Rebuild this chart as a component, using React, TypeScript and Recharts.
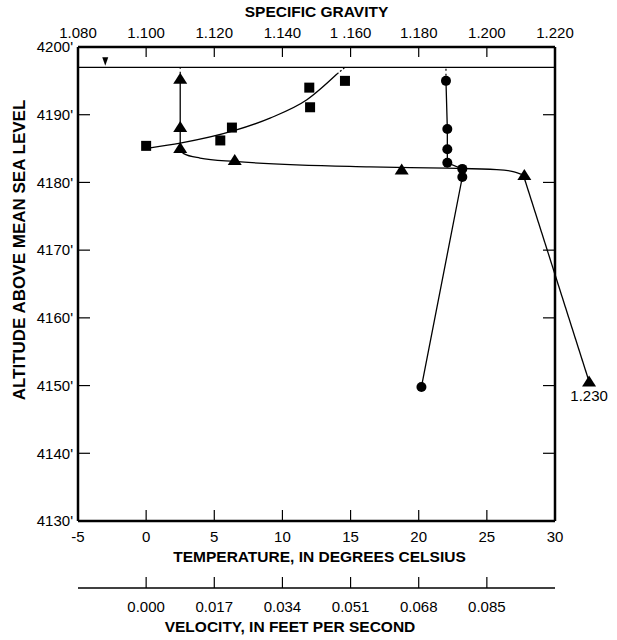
import React from 'react';
import {
  ComposedChart,
  XAxis,
  YAxis,
  Line,
  Scatter,
  ReferenceLine,
  ReferenceDot,
  LabelList,
} from 'recharts';

const FONT = '"Liberation Sans", Arial, Helvetica, sans-serif';

// ---- Axis ticks ----
const altitudeTicks = [4130, 4140, 4150, 4160, 4170, 4180, 4190, 4200];
const temperatureTicks = [-5, 0, 5, 10, 15, 20, 25, 30];
const gravityTicks = [1.08, 1.1, 1.12, 1.14, 1.16, 1.18, 1.2, 1.22];
const gravityTickLabels = ['1.080', '1.100', '1.120', '1.140', '1 .160', '1.180', '1.200', '1.220'];
const velocityTicks = [0, 0.017, 0.034, 0.051, 0.068, 0.085];
const velocityTickLabels = ['0.000', '0.017', '0.034', '0.051', '0.068', '0.085'];

// ---- Water surface ----
const waterSurfaceAltitude = 4197;
const waterMarkTemperature = -3;

// ---- Temperature profile (circles) ----
const temperatureValues = [22.0, 22.1, 22.1, 22.1, 23.2, 23.2, 20.2];
const temperatureAltitudes = [4195.0, 4187.9, 4184.9, 4182.9, 4182.0, 4180.8, 4149.8];

// ---- Specific gravity profile (triangles) ----
const gravityValues = [1.11, 1.11, 1.11, 1.126, 1.175, 1.211, 1.23];
const gravityAltitudes = [4195.3, 4188.2, 4185.1, 4183.3, 4181.9, 4181.1, 4150.6];
const gravityLabels = [undefined, undefined, undefined, undefined, undefined, undefined, '1.230'];
// drawn curve through the specific-gravity points
const gravityCurveValues = [1.11, 1.1109, 1.1158, 1.1259, 1.1657, 1.1882, 1.2029, 1.2077, 1.2107];
const gravityCurveAltitudes = [4185.1, 4184.3, 4183.6, 4183.1, 4182.3, 4182.1, 4181.9, 4181.6, 4181.1];

// ---- Velocity profile (squares) ----
const velocityValues = [0.0, 0.0185, 0.0214, 0.0407, 0.0409, 0.0496];
const velocityAltitudes = [4185.4, 4186.2, 4188.1, 4194.0, 4191.1, 4195.0];
// drawn fitted curve through the velocity points
const velocityCurveValues = [0.001, 0.0085, 0.0217, 0.0309, 0.0401, 0.0476];
const velocityCurveAltitudes = [4185.1, 4185.8, 4187.6, 4189.5, 4192.2, 4196.0];

// ---- derived tables ----
const tempData = temperatureValues.map((t, i) => ({ t, alt: temperatureAltitudes[i] }));
const tempExt = [
  { t: temperatureValues[0], alt: temperatureAltitudes[0] },
  { t: temperatureValues[0], alt: waterSurfaceAltitude },
];
const sgData = gravityValues.map((sg, i) => ({ sg, alt: gravityAltitudes[i], label: gravityLabels[i] }));
const sgVertical = gravityValues.slice(0, 3).map((sg, i) => ({ sg, alt: gravityAltitudes[i] }));
const sgExt = [
  { sg: gravityValues[0], alt: gravityAltitudes[0] },
  { sg: gravityValues[0], alt: waterSurfaceAltitude },
];
const sgCurve = gravityCurveValues.map((sg, i) => ({ sg, alt: gravityCurveAltitudes[i] }));
const sgTail = [
  { sg: gravityCurveValues[gravityCurveValues.length - 1], alt: gravityCurveAltitudes[gravityCurveAltitudes.length - 1] },
  { sg: gravityValues[6], alt: gravityAltitudes[6] },
];
const velData = velocityValues.map((v, i) => ({ v, alt: velocityAltitudes[i] }));
const velCurve = velocityCurveValues.map((v, i) => ({ v, alt: velocityCurveAltitudes[i] }));
const velExt = [
  { v: velocityCurveValues[velocityCurveValues.length - 1], alt: velocityCurveAltitudes[velocityCurveAltitudes.length - 1] },
  { v: velocityValues[5], alt: waterSurfaceAltitude },
];

const tickStyle = { fill: '#000', fontSize: 15, fontFamily: FONT };
const boxLine = { stroke: '#000', strokeWidth: 2.5 };
const tickLine = { stroke: '#000', strokeWidth: 1.2 };

const CircleMark = (p: any) => <circle cx={p.cx} cy={p.cy} r={5} fill="#000" />;
const SquareMark = (p: any) => <rect x={p.cx - 5} y={p.cy - 5} width={10} height={10} fill="#000" />;
const TriangleMark = (p: any) => (
  <path d={`M${p.cx},${p.cy - 6} L${p.cx + 7},${p.cy + 5} L${p.cx - 7},${p.cy + 5} Z`} fill="#000" />
);
const WaterMark = (p: any) => (
  <path d={`M${p.cx - 3},${p.cy - 10} L${p.cx + 3},${p.cy - 10} L${p.cx},${p.cy - 1.5} Z`} fill="#000" />
);

const titleProps = { fill: '#000', fontSize: 15.5, fontWeight: 'bold' as const, fontFamily: FONT };

const TopTitle = (props: any) => {
  const vb = props.viewBox;
  return (
    <text x={vb.x + vb.width / 2} y={16.7} textAnchor="middle" {...titleProps}>
      SPECIFIC GRAVITY
    </text>
  );
};
const TempTitle = (props: any) => {
  const vb = props.viewBox;
  return (
    <text x={vb.x + vb.width / 2 + 3} y={vb.y + 41.3} textAnchor="middle" {...titleProps}>
      TEMPERATURE, IN DEGREES CELSIUS
    </text>
  );
};
const VelTitle = (props: any) => {
  const vb = props.viewBox;
  return (
    <text x={vb.x + vb.width / 2 - 26.5} y={vb.y + 44.3} textAnchor="middle" {...titleProps}>
      VELOCITY, IN FEET PER SECOND
    </text>
  );
};
const AltTitle = () => (
  <text x={25} y={250} transform="rotate(-90 25 250)" textAnchor="middle" {...titleProps} fontSize={17}>
    ALTITUDE ABOVE MEAN SEA LEVEL
  </text>
);

export default function App() {
  return (
    <div style={{ position: 'absolute', left: 0, top: 0, background: '#fff' }}>
      <style>{'.recharts-surface [clip-path]{clip-path:none !important;}'}</style>
      <ComposedChart width={617} height={640} margin={{ top: 0, right: 0, bottom: 0, left: 0 }}>
        <XAxis
          xAxisId="t"
          type="number"
          dataKey="t"
          orientation="bottom"
          domain={[-5, 30]}
          allowDataOverflow
          ticks={temperatureTicks}
          interval={0}
          height={67}
          axisLine={boxLine}
          tickLine={tickLine}
          tickSize={-11}
          tickMargin={21.4}
          tick={tickStyle}
          label={{ content: TempTitle }}
        />
        <XAxis
          xAxisId="v"
          type="number"
          dataKey="v"
          orientation="bottom"
          domain={[-0.017, 0.102]}
          allowDataOverflow
          ticks={velocityTicks}
          interval={0}
          height={52}
          axisLine={{ stroke: '#000', strokeWidth: 1.6 }}
          tickLine={tickLine}
          tickSize={-11}
          tickMargin={24}
          tick={tickStyle}
          tickFormatter={(_v: number, i: number) => velocityTickLabels[i]}
          label={{ content: VelTitle }}
        />
        <XAxis
          xAxisId="sg"
          type="number"
          dataKey="sg"
          orientation="top"
          domain={[1.08, 1.22]}
          allowDataOverflow
          ticks={gravityTicks}
          interval={0}
          height={47}
          axisLine={boxLine}
          tickLine={tickLine}
          tickSize={-10}
          tickMargin={19.3}
          tick={tickStyle}
          tickFormatter={(_v: number, i: number) => gravityTickLabels[i]}
          label={{ content: TopTitle }}
        />
        <YAxis
          yAxisId="alt"
          type="number"
          dataKey="alt"
          domain={[4130, 4200]}
          allowDataOverflow
          ticks={altitudeTicks}
          interval={0}
          width={78}
          axisLine={boxLine}
          tickLine={tickLine}
          tickSize={-12}
          tickMargin={17}
          tick={tickStyle}
          tickFormatter={(v: number) => `${v}'`}
          label={{ content: AltTitle }}
        />
        <YAxis
          yAxisId="right"
          orientation="right"
          type="number"
          domain={[4130, 4200]}
          allowDataOverflow
          ticks={altitudeTicks}
          interval={0}
          width={62}
          axisLine={boxLine}
          tickLine={tickLine}
          tickSize={-12}
          tickFormatter={() => ''}
        />

        <ReferenceLine xAxisId="t" yAxisId="alt" y={waterSurfaceAltitude} stroke="#000" strokeWidth={1.3} />
        <ReferenceDot
          xAxisId="t"
          yAxisId="alt"
          x={waterMarkTemperature}
          y={waterSurfaceAltitude}
          shape={WaterMark}
        />

        {/* temperature */}
        <Line xAxisId="t" yAxisId="alt" data={tempData} dataKey="alt" type="linear" stroke="#000" strokeWidth={1.3} dot={false} isAnimationActive={false} />
        <Line xAxisId="t" yAxisId="alt" data={tempExt} dataKey="alt" type="linear" stroke="#000" strokeWidth={1.2} strokeDasharray="2 3" dot={false} isAnimationActive={false} />
        <Scatter xAxisId="t" yAxisId="alt" data={tempData} shape={CircleMark} isAnimationActive={false} />

        {/* specific gravity */}
        <Line xAxisId="sg" yAxisId="alt" data={sgVertical} dataKey="alt" type="linear" stroke="#000" strokeWidth={1.3} dot={false} isAnimationActive={false} />
        <Line xAxisId="sg" yAxisId="alt" data={sgExt} dataKey="alt" type="linear" stroke="#000" strokeWidth={1.2} strokeDasharray="2 3" dot={false} isAnimationActive={false} />
        <Line xAxisId="sg" yAxisId="alt" data={sgCurve} dataKey="alt" type="monotone" stroke="#000" strokeWidth={1.3} dot={false} isAnimationActive={false} />
        <Line xAxisId="sg" yAxisId="alt" data={sgTail} dataKey="alt" type="linear" stroke="#000" strokeWidth={1.3} dot={false} isAnimationActive={false} />
        <Scatter xAxisId="sg" yAxisId="alt" data={sgData} shape={TriangleMark} isAnimationActive={false}>
          <LabelList dataKey="label" position="bottom" offset={4} fill="#000" fontSize={15} fontFamily={FONT} />
        </Scatter>

        {/* velocity */}
        <Line xAxisId="v" yAxisId="alt" data={velCurve} dataKey="alt" type="monotone" stroke="#000" strokeWidth={1.3} dot={false} isAnimationActive={false} />
        <Line xAxisId="v" yAxisId="alt" data={velExt} dataKey="alt" type="linear" stroke="#000" strokeWidth={1.2} strokeDasharray="2 2" dot={false} isAnimationActive={false} />
        <Scatter xAxisId="v" yAxisId="alt" data={velData} shape={SquareMark} isAnimationActive={false} />
      </ComposedChart>
    </div>
  );
}
